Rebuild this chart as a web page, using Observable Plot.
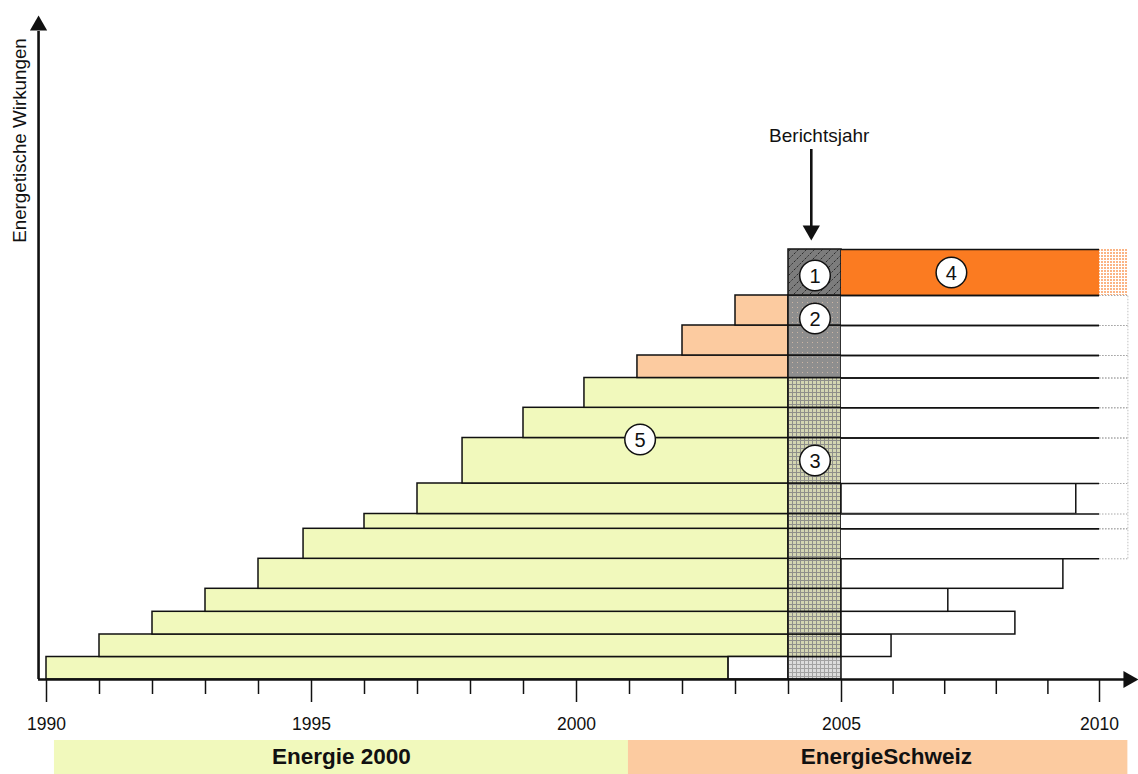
<!DOCTYPE html>
<html>
<head>
<meta charset="utf-8">
<script src="https://cdn.jsdelivr.net/npm/d3@7"></script>
<script src="https://cdn.jsdelivr.net/npm/@observablehq/plot@0.6"></script>
<style>
  html, body { margin: 0; padding: 0; background: #ffffff; }
  #chart svg { display: block; }
</style>
</head>
<body>
<div id="chart"></div>
<script>
// ---- data ----
// one row per measure/project, from bottom to top
const rowStart   = [1990, 1991, 1992, 1993, 1994, 1994.85, 1996, 1997, 1997.85, 1999, 2000.15, 2001.15, 2002, 2003, 2004];
const rowHeight  = [2.25, 2.25, 2.27, 2.3, 3.0, 3.0, 1.48, 3.05, 4.55, 3.02, 2.98, 2.25, 3.0, 3.0, 4.6];
const programme  = ["Energie 2000","Energie 2000","Energie 2000","Energie 2000","Energie 2000","Energie 2000",
                    "Energie 2000","Energie 2000","Energie 2000","Energie 2000","Energie 2000",
                    "EnergieSchweiz","EnergieSchweiz","EnergieSchweiz","EnergieSchweiz"];
const leftEnd    = [2002.87, 2004, 2004, 2004, 2004, 2004, 2004, 2004, 2004, 2004, 2004, 2004, 2004, 2004, null];
const rightEnd   = [2005, 2005.97, 2008.37, 2007.07, 2009.3, 2012, 2012, 2009.55, 2012, 2012, 2012, 2012, 2012, 2012, 2012];
const cellKind   = ["light","green","green","green","green","green","green","green","green","green","green","gray","gray","gray","hatch"];

const reportYear = 2004;
const horizon    = 2010;
const extension  = 2010.55;

const tickYears  = d3.range(1990, 2011);
const labelYears = [1990, 1995, 2000, 2005, 2010];

const bannerNames = ["Energie 2000", "EnergieSchweiz"];
const bannerStart = [1990.15, 2000.98];
const bannerEnd   = [2000.98, 2010.55];

const circleLabels = ["1", "2", "3", "4", "5"];
const circleYear   = [2004.5, 2004.5, 2004.5, 2007.13, 2001.2];
const circleValue  = [40.4, 36.1, 21.9, 40.7, 24.0];

const yTitle = "Energetische Wirkungen";
const reportLabel = "Berichtsjahr";

// ---- build tables ----
const cum = [0, ...d3.cumsum(rowHeight)];
const rows = rowStart.map((s, i) => ({
  i, start: s, y1: cum[i], y2: cum[i] + rowHeight[i], prog: programme[i],
  leftEnd: leftEnd[i], rightEnd: rightEnd[i], cell: cellKind[i]
}));
const banners = bannerNames.map((n, i) => ({name: n, x1: bannerStart[i], x2: bannerEnd[i]}));
const circles = circleLabels.map((t, i) => ({t, x: circleYear[i], y: circleValue[i]}));

const colourOf = {"Energie 2000": "#f1f9bc", "EnergieSchweiz": "#fccba0"};
const strongOrange = "#fb7b21";
const ink = "#111111";
const font = "Liberation Sans, Arial, sans-serif";

const leftRows   = rows.filter(d => d.leftEnd != null);
const gapRows    = rows.filter(d => d.leftEnd != null && d.leftEnd < reportYear);
const endRows    = rows.filter(d => d.rightEnd > 2005 && d.rightEnd <= horizon);
const contRows   = rows.filter(d => d.rightEnd > horizon);
const contPlain  = contRows.filter(d => d.cell !== "hatch");
const contTop    = contRows.filter(d => d.cell === "hatch");
const cellFill   = {light: "url(#pLight)", green: "url(#pGreen)", gray: "url(#pGray)", hatch: "url(#pHatch)"};

const yTop = 66.4;
// the reference's year axis is slightly tighter after 2005
const k = 51.6 / 53;
const squeeze = v => v <= 2005 ? v : 2005 + (v - 2005) * k;

const chart = Plot.plot({
  width: 1138,
  height: 774,
  marginLeft: 46,
  marginRight: 39,
  marginTop: 15,
  marginBottom: 95,
  x: {type: "linear", domain: [1990, squeeze(2010)], range: [46, 1099], transform: squeeze, axis: null},
  y: {type: "linear", domain: [0, yTop], axis: null},
  color: {type: "identity"},
  style: {fontFamily: font, background: "#ffffff", color: ink, overflow: "visible"},
  marks: [
    // programme banners
    Plot.rect(banners, {x1: "x1", x2: "x2", y1: -6.1, y2: -9.6, fill: d => colourOf[d.name]}),
    Plot.text(banners, {x: d => d.name === "Energie 2000" ? (d.x1 + d.x2) / 2 : 2005.87, y: -7.75, text: "name",
      fontWeight: "bold", fontSize: 22.5, fill: ink}),

    // left part of each row (effects up to the report year)
    Plot.rect(leftRows, {x1: "start", x2: "leftEnd", y1: "y1", y2: "y2", fill: d => colourOf[d.prog],
      stroke: ink, strokeWidth: 1.5}),
    Plot.rect(gapRows, {x1: "leftEnd", x2: reportYear, y1: "y1", y2: "y2", fill: "#ffffff",
      stroke: ink, strokeWidth: 1.5}),

    // report-year column
    ...Object.keys(cellFill).map(kind =>
      Plot.rect(rows.filter(d => d.cell === kind), {x1: reportYear, x2: 2005, y1: "y1", y2: "y2",
        fill: cellFill[kind], stroke: ink, strokeWidth: 1.5})),

    // future effects: finished rows
    Plot.rect(endRows, {x1: 2005, x2: "rightEnd", y1: "y1", y2: "y2", fill: "#ffffff", stroke: ink, strokeWidth: 1.5}),
    // future effects: rows continuing past the horizon
    Plot.rect(contRows, {x1: 2005, x2: horizon, y1: "y1", y2: "y2",
      fill: d => d.cell === "hatch" ? strongOrange : "#ffffff"}),
    Plot.ruleY(contRows, {y: "y1", x1: 2005, x2: horizon, stroke: ink, strokeWidth: 1.5}),
    Plot.ruleY(contRows, {y: "y2", x1: 2005, x2: horizon, stroke: ink, strokeWidth: 1.5}),
    // continuation beyond the horizon
    Plot.rect(contTop, {x1: horizon, x2: extension, y1: "y1", y2: "y2", fill: "url(#pOrange)"}),
    Plot.ruleY(contPlain, {y: "y1", x1: horizon, x2: extension, stroke: "#a8a8a8", strokeWidth: 1, strokeDasharray: "1.5,1.5"}),
    Plot.ruleY(contPlain, {y: "y2", x1: horizon, x2: extension, stroke: "#a8a8a8", strokeWidth: 1, strokeDasharray: "1.5,1.5"}),
    Plot.ruleX([extension], {x: d => d, y1: d3.min(contPlain, d => d.y1), y2: d3.max(contPlain, d => d.y2),
      stroke: "#c0c0c0", strokeWidth: 1, strokeDasharray: "1.5,1.5"}),

    // axes
    Plot.ruleX(tickYears, {x: d => d, y1: 0, y2: d => d % 5 === 0 ? -2.3 : -1.5, stroke: ink, strokeWidth: 1.5}),
    Plot.text(labelYears, {x: d => d, y: -4.45, text: d => String(d), fontSize: 17.5, fill: ink}),
    Plot.ruleY([0], {x1: 1989.85, x2: 2010.6, stroke: ink, strokeWidth: 2.6}),
    Plot.ruleX([1989.85], {x: d => d, y1: 0, y2: 64.8, stroke: ink, strokeWidth: 2.6}),
    Plot.dot([{x: 2010.56, y: 0}], {x: "x", y: "y", symbol: "triangle", r: 6.4, rotate: 90, fill: ink, stroke: "none"}),
    Plot.dot([{x: 1989.85, y: 65.4}], {x: "x", y: "y", symbol: "triangle", r: 6.4, fill: ink, stroke: "none"}),
    Plot.text([yTitle], {x: 1989.5, y: 53.9, text: d => d, rotate: -90, fontSize: 18.8, fill: ink}),

    // report year marker
    Plot.text([reportLabel], {x: 2004.58, y: 54.4, text: d => d, fontSize: 19, fill: ink}),
    Plot.ruleX([2004.43], {x: d => d, y1: 53.0, y2: 45.0, stroke: ink, strokeWidth: 2.6}),
    Plot.dot([{x: 2004.43, y: 44.9}], {x: "x", y: "y", symbol: "triangle", r: 6.4, rotate: 180, fill: ink, stroke: "none"}),

    // numbered callouts
    Plot.dot(circles, {x: "x", y: "y", r: 15.3, fill: "#ffffff", stroke: ink, strokeWidth: 1.5}),
    Plot.text(circles, {x: "x", y: "y", text: "t", fontSize: 20, fill: ink, dy: 1})
  ]
});

// fill patterns used by the report-year column and the continuation
const defs = d3.select(chart).insert("defs", ":first-child");
function grid(id, bg, line, size) {
  const p = defs.append("pattern").attr("id", id).attr("patternUnits", "userSpaceOnUse")
    .attr("width", size).attr("height", size);
  p.append("rect").attr("width", size).attr("height", size).attr("fill", bg);
  p.append("path").attr("d", `M0,0.5H${size}M0.5,0V${size}`).attr("stroke", line).attr("stroke-width", 1);
}
grid("pGreen", "#d4d6b2", "#8f8f8a", 4);
grid("pLight", "#dcdcdc", "#a2a2a2", 4);
{
  const p = defs.append("pattern").attr("id", "pGray").attr("patternUnits", "userSpaceOnUse")
    .attr("width", 5).attr("height", 5);
  p.append("rect").attr("width", 5).attr("height", 5).attr("fill", "#8e8e8e");
  p.append("rect").attr("x", 2).attr("y", 2).attr("width", 1).attr("height", 1).attr("fill", "#cdb6a4");
}
{
  const p = defs.append("pattern").attr("id", "pHatch").attr("patternUnits", "userSpaceOnUse")
    .attr("width", 8).attr("height", 8);
  p.append("rect").attr("width", 8).attr("height", 8).attr("fill", "#7c7c7c");
  p.append("path").attr("d", "M-1,9L9,-1M-1,1L1,-1M7,9L9,7").attr("stroke", "#2a2a2a").attr("stroke-width", 1)
    .attr("stroke-dasharray", "2.5,1.5");
}
{
  const p = defs.append("pattern").attr("id", "pOrange").attr("patternUnits", "userSpaceOnUse")
    .attr("width", 3).attr("height", 3);
  p.append("rect").attr("width", 3).attr("height", 3).attr("fill", "#ffffff");
  p.append("rect").attr("width", 2).attr("height", 2).attr("fill", "#fbb484");
}

document.getElementById("chart").appendChild(chart);
</script>
</body>
</html>
